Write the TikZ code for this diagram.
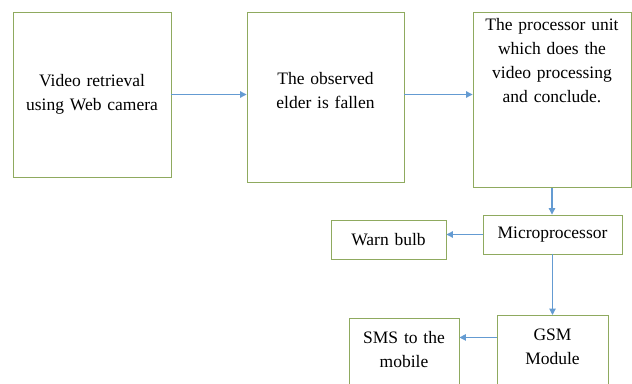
\documentclass[tikz,border=0pt]{standalone}
\usepackage{fontspec}
\setmainfont{Liberation Serif}
\usetikzlibrary{arrows.meta}
\definecolor{boxgreen}{RGB}{143,170,95}
\definecolor{flowblue}{RGB}{100,155,210}

\begin{document}
\begin{tikzpicture}[x=1pt, y=-1pt,
    block/.style = {draw=boxgreen, line width=0.9pt, align=center, inner sep=0pt,
                    font=\fontsize{17.5}{24}\selectfont},
    flow/.style = {draw=flowblue, line width=1.1pt, -{Triangle[length=6.5pt,width=6.5pt]}}]
      \clip (0,0) rectangle (632,383);
      \node[block, text width=158pt, minimum height=165pt] (video) at (92,94.5) {Video retrieval\\using Web camera};
      \node[block, text width=157pt, minimum height=170pt, text depth=38pt] (fallen) at (325.5,97) {The observed\\elder is fallen};
      \node[block, text width=158pt, text height=18pt, text depth=157pt, anchor=north] (unit) at (552,12)
            {The processor unit\\which does the\\video processing\\and conclude.};
      \node[block, text width=139pt, minimum height=39pt] (micro) at (552.5,234.5) {Microprocessor};
      \node[block, text width=115pt, minimum height=39pt] (bulb) at (388.5,239.5) {Warn bulb};
      \node[block, text width=111pt, text height=25pt, text depth=80pt, anchor=north] (gsm) at (552.5,315) {GSM\\Module};
      \node[block, text width=110pt, text height=25pt, text depth=80pt, anchor=north] (sms) at (404,318) {SMS to the\\mobile};

      \draw[flow] (video.east) -- (video.east -| fallen.west);
      \draw[flow] (fallen.east |- video.east) -- (video.east -| unit.west);
      \draw[flow] (unit.south) -- (unit.south |- micro.north);
      \draw[flow] (micro.west) -- (micro.west -| bulb.east);
      \draw[flow] (micro.south) -- (gsm.north);
      \draw[flow] ([yshift=3pt]gsm.west |- gsm.base) -- ([yshift=3pt]sms.east |- gsm.base);
\end{tikzpicture}
\end{document}
